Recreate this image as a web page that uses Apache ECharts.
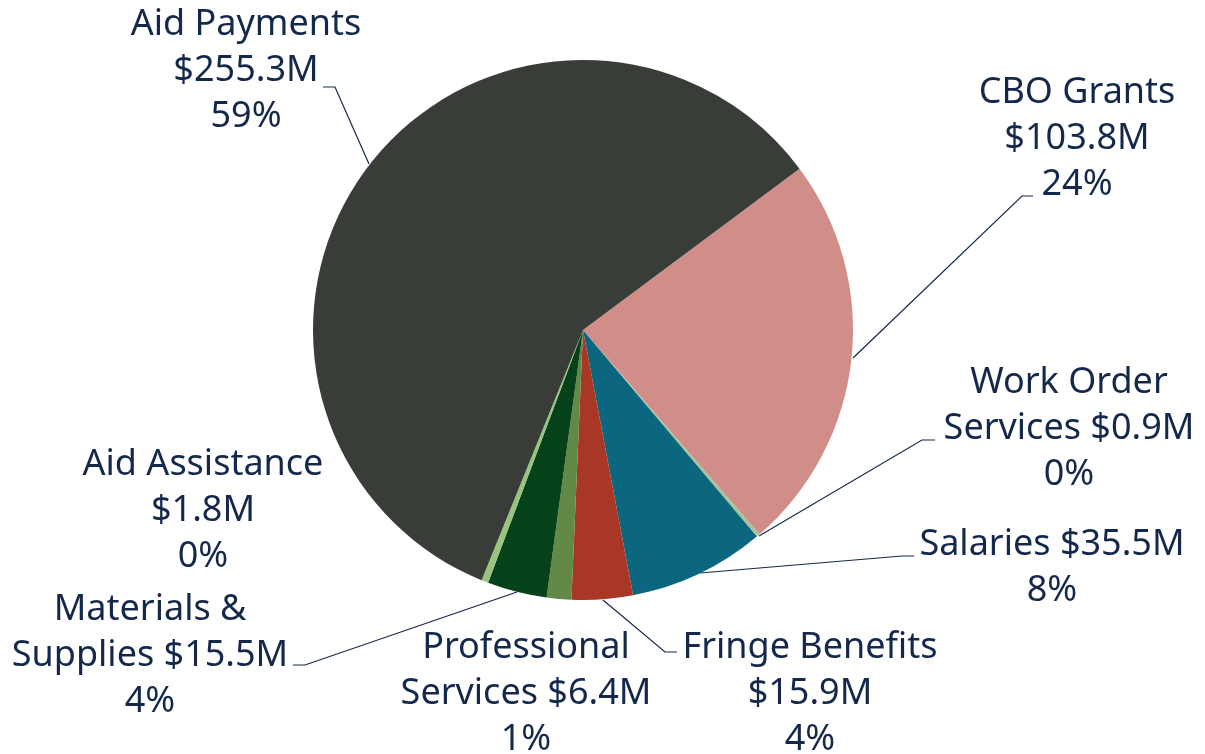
<!DOCTYPE html>
<html>
<head>
<meta charset="utf-8">
<script src="https://cdn.jsdelivr.net/npm/echarts@6/dist/echarts.min.js"></script>
<style>
	html,body{margin:0;padding:0;background:#fff;}
	#pieChart{width:1205px;height:754px;}
</style>
</head>
<body>
<div id="pieChart"></div>
<script>
	// slices, clockwise from CBO Grants
	const categories = ['CBO Grants', 'Work Order Services', 'Salaries', 'Fringe Benefits', 'Professional Services', 'Materials & Supplies', 'Aid Assistance', 'Aid Payments']
	const amounts = [103.8, 0.9, 35.5, 15.9, 6.4, 15.5, 1.8, 255.3] // $M
	const colors = ['#d18d88', '#a5c49a', '#0b6680', '#a83825', '#628946', '#064219', '#97c47f', '#393d37']

	// how each label is broken into lines
	const wordsOnFirstLine = [0, 2, 0, 0, 1, 2, 0, 0] // 0 = name not wrapped
	const valueOnNewLine = [true, false, false, true, false, false, true, true]
	// label box: centre x, top y
	const labelPos = [[1077, 70], [1069, 360], [1052, 522], [810, 625], [526, 625], [150, 587], [203, 442], [246, 2]]
	// leader lines (null = none)
	const leaderLines = [
		[[853, 358], [1022, 196], [1033, 196]],
		[[759, 536], [922, 440], [935, 440]],
		[[700, 573], [902, 556], [914, 556]],
		[[603, 600], [665, 652], [677, 652]],
		null,
		[[517, 592], [305, 665], [293, 665]],
		null,
		[[369, 164], [335, 87], [323, 87]]
	]

	const total = amounts.reduce((a, b) => a + b, 0)
	const textColor = '#14284b'

	const labelText = (i) => {
		let name = categories[i]
		const n = wordsOnFirstLine[i]
		if (n > 0) {
			const words = name.split(' ')
			name = words.slice(0, n).join(' ') + '\n' + words.slice(n).join(' ')
		}
		const pct = Math.round(amounts[i] / total * 100)
		return name + (valueOnNewLine[i] ? '\n' : ' ') + '$' + amounts[i] + 'M\n' + pct + '%'
	}

	const myChart = echarts.init(document.getElementById('pieChart'))
	const option = {
		animation: false,
		backgroundColor: '#fff',
		series: [{
			type: 'pie',
			radius: 270,
			center: [583, 330],
			startAngle: 36.7,
			clockwise: true,
			avoidLabelOverlap: false,
			itemStyle: {
				borderWidth: 0
			},
			label: {
				show: true,
				position: 'outside',
				color: textColor,
				fontFamily: 'Noto Sans',
				fontSize: 36,
				lineHeight: 46,
				align: 'center',
				formatter: (p) => labelText(p.dataIndex)
			},
			labelLine: {
				show: true,
				lineStyle: {
					color: textColor,
					width: 1.2
				}
			},
			labelLayout: (params) => {
				const i = params.dataIndex
				const res = {
					x: labelPos[i][0],
					y: labelPos[i][1],
					align: 'center',
					verticalAlign: 'top'
				}
				if (leaderLines[i]) res.labelLinePoints = leaderLines[i]
				return res
			},
			data: categories.map((name, i) => ({
				name: name,
				value: amounts[i],
				itemStyle: { color: colors[i] },
				labelLine: { show: leaderLines[i] !== null }
			}))
		}]
	}
	myChart.setOption(option)
</script>
</body>
</html>
